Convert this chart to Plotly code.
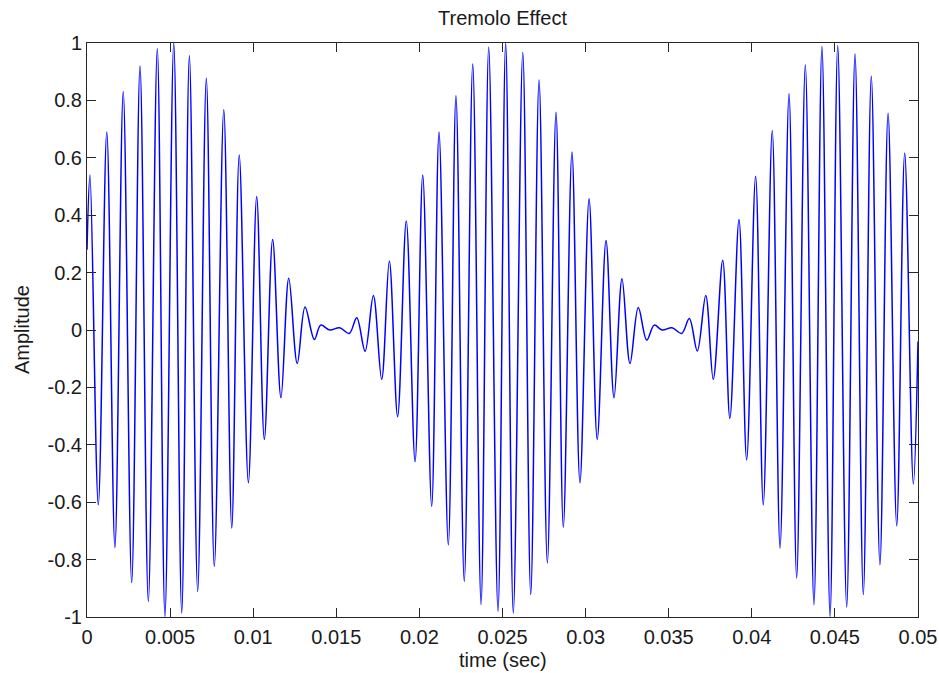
import plotly.graph_objects as go

# Positive peaks of the tremolo waveform (time in s, amplitude)
peak_times = [0.00018, 0.00119, 0.00218, 0.00319, 0.00423, 0.00522, 0.00616, 0.00718,
              0.00823, 0.00916, 0.01021, 0.01117, 0.01214, 0.01312, 0.01406,
              0.01623, 0.01723, 0.01819, 0.01921, 0.02020, 0.02118, 0.02220, 0.02321,
              0.02417, 0.02519, 0.02622, 0.02720, 0.02822, 0.02918, 0.03021, 0.03123,
              0.03219, 0.03317, 0.03413,
              0.03624, 0.03723, 0.03825, 0.03923, 0.04023, 0.04123, 0.04224, 0.04322,
              0.04422, 0.04517, 0.04621, 0.04719, 0.04820, 0.04920]
peak_values = [0.54, 0.69, 0.83, 0.92, 0.98, 1.00, 0.956, 0.877,
               0.767, 0.61, 0.465, 0.315, 0.18, 0.08, 0.017,
               0.043, 0.12, 0.24, 0.38, 0.54, 0.69, 0.816, 0.927,
               0.985, 1.0, 0.967, 0.871, 0.759, 0.62, 0.457, 0.312,
               0.179, 0.078, 0.017,
               0.04, 0.12, 0.243, 0.385, 0.536, 0.695, 0.823, 0.923,
               0.988, 0.99, 0.962, 0.884, 0.755, 0.617]

# Negative troughs
trough_times = [0.00068, 0.00168, 0.00269, 0.00369, 0.00469, 0.00570, 0.00666, 0.00766,
                0.00871, 0.00971, 0.01067, 0.01167, 0.01265, 0.01368,
                0.01578, 0.01673, 0.01773, 0.01869, 0.01974, 0.02074, 0.02174, 0.02270,
                0.02371, 0.02473, 0.02565, 0.02670, 0.02770, 0.02866, 0.02966, 0.03070,
                0.03171, 0.03267, 0.03368,
                0.03578, 0.03672, 0.03768, 0.03868, 0.03969, 0.04069, 0.04170, 0.04270,
                0.04374, 0.04471, 0.04571, 0.04671, 0.04771, 0.04872, 0.04972]
trough_values = [-0.609, -0.758, -0.88, -0.946, -0.998, -0.986, -0.911, -0.824,
                 -0.69, -0.532, -0.381, -0.236, -0.117, -0.033,
                 -0.012, -0.074, -0.172, -0.302, -0.459, -0.615, -0.749, -0.876,
                 -0.957, -0.98, -0.986, -0.922, -0.812, -0.687, -0.532, -0.381,
                 -0.236, -0.117, -0.035,
                 -0.012, -0.073, -0.172, -0.308, -0.453, -0.609, -0.76, -0.864,
                 -0.957, -0.998, -0.965, -0.922, -0.818, -0.682, -0.536]

# Nearly silent stretches between the tremolo lobes, plus the two ends
quiet_times = [0.0, 0.0146, 0.0152, 0.0346, 0.0352, 0.05]
quiet_values = [0.28, 0.0, 0.008, 0.0, 0.008, -0.04]

x_ticks = [0, 0.005, 0.01, 0.015, 0.02, 0.025, 0.03, 0.035, 0.04, 0.045, 0.05]
x_labels = ["0", "0.005", "0.01", "0.015", "0.02", "0.025", "0.03", "0.035", "0.04", "0.045", "0.05"]
y_ticks = [1, 0.8, 0.6, 0.4, 0.2, 0, -0.2, -0.4, -0.6, -0.8, -1]
y_labels = ["1", "0.8", "0.6", "0.4", "0.2", "0", "-0.2", "-0.4", "-0.6", "-0.8", "-1"]

pts = sorted(zip(peak_times + trough_times + quiet_times,
                 peak_values + trough_values + quiet_values))
t = [p[0] for p in pts]
v = [p[1] for p in pts]

FONT = "Liberation Sans"
FS = 20
TXT = "#1a1a1a"

fig = go.Figure()
fig.add_trace(go.Scatter(x=t, y=v, mode="lines",
                         line=dict(color="#0000FF", width=1.5, shape="spline", smoothing=1.0),
                         hoverinfo="skip", showlegend=False))

axis_common = dict(showgrid=False, zeroline=False, showline=True, linecolor="#262626",
                   linewidth=1, mirror="allticks", ticks="inside", ticklen=9,
                   tickcolor="#262626", tickwidth=1, automargin=False,
                   tickfont=dict(family=FONT, size=FS, color=TXT))

fig.update_xaxes(range=[0, 0.05], tickvals=x_ticks, ticktext=x_labels,
                 ticklabelstandoff=2, **axis_common)
fig.update_yaxes(range=[-1, 1], tickvals=y_ticks, ticktext=y_labels,
                 ticklabelstandoff=0, **axis_common)

fig.update_layout(
    width=939, height=673,
    margin=dict(l=87, r=21, t=43, b=56),
    paper_bgcolor="#FFFFFF", plot_bgcolor="#FFFFFF",
    title=dict(text="Tremolo Effect", x=0.5, xref="paper", xanchor="center",
               y=1 - 18 / 673, yref="container", yanchor="middle",
               font=dict(family=FONT, size=FS, color=TXT)),
    annotations=[
        dict(text="time (sec)", xref="paper", yref="paper", x=0.5, y=0,
             yshift=-43, xanchor="center", yanchor="middle", showarrow=False,
             font=dict(family=FONT, size=FS, color=TXT)),
        dict(text="Amplitude", xref="paper", yref="paper", x=0, y=0.5,
             xshift=-65, xanchor="center", yanchor="middle", textangle=-90,
             showarrow=False, font=dict(family=FONT, size=FS, color=TXT)),
    ],
)

fig.write_html("out.html")
